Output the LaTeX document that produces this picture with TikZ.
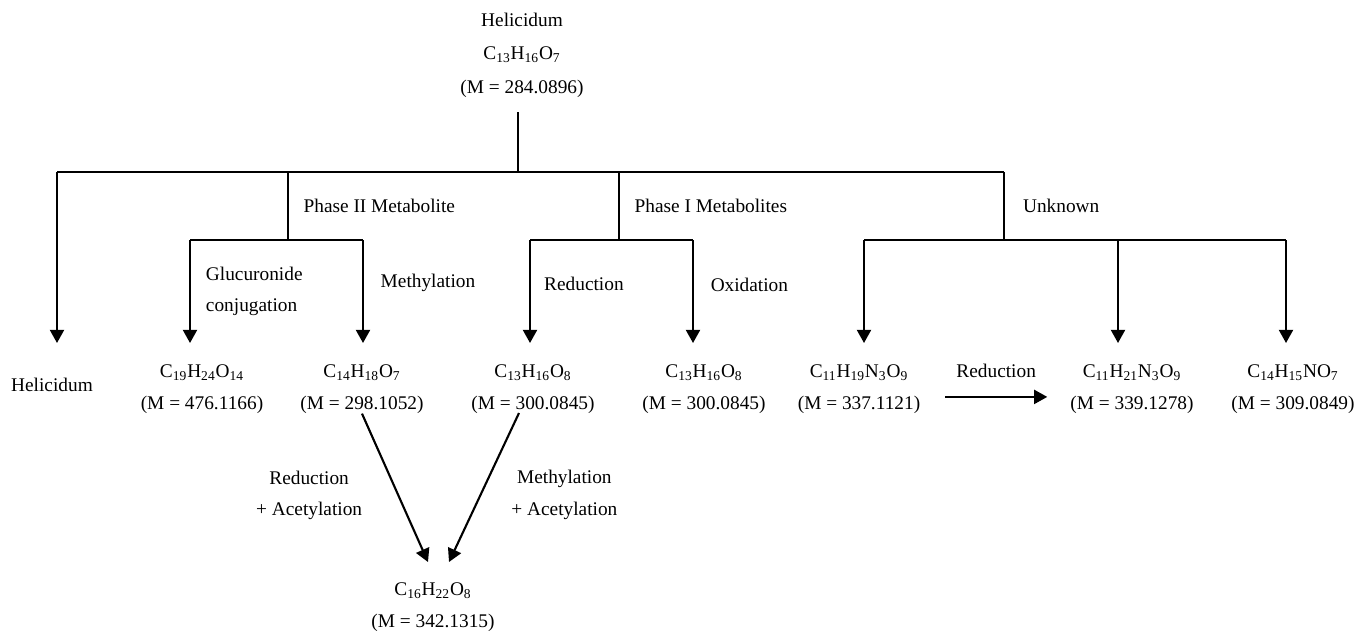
\documentclass[tikz,border=0pt]{standalone}
\usepackage{fontspec}
\setmainfont{Liberation Serif}
\usetikzlibrary{positioning, arrows.meta, calc}
\newcommand{\ix}[1]{\textsubscript{#1}}
\tikzset{
  cmpd/.style={
    align=center,
    inner sep=0pt,
    font=\fontsize{11}{18}\selectfont
  },
  lbl/.style={
    inner sep=0pt,
    font=\fontsize{11}{18}\selectfont
  },
  tree/.style={
    line width=0.75pt
  },
  arr/.style={
    line width=1.2pt,
    -{Triangle[length=7.5pt,width=8pt]}
  }
}

\begin{document}
\begin{tikzpicture}[x=0.02cm, y=-0.02cm]
        \useasboundingbox (0,0) rectangle (1359,630);
        % parent compound
        \node[cmpd, font=\fontsize{11}{19}\selectfont] (root) at (522,55) {Helicidum\\C\ix{13}H\ix{16}O\ix{7}\\(M = 284.0896)};
        \coordinate (stem) at (518,112);
        \coordinate (hub) at (518,172);
        \coordinate (j2) at (288,240);
        \coordinate (j1) at (619,240);
        \coordinate (ju) at (1004,240);
        % arrow tips
        \coordinate (t0) at (57,343);
        \coordinate (t1) at (190,343);
        \coordinate (t2) at (363,343);
        \coordinate (t3) at (530,343);
        \coordinate (t4) at (693,343);
        \coordinate (t5) at (864,343);
        \coordinate (t6) at (1118,343);
        \coordinate (t7) at (1286,343);

        % products
        \node[cmpd] (h0) at (52,385) {Helicidum};
        \node[cmpd] (c1) at (202,389) {C\ix{19}H\ix{24}O\ix{14}\\(M = 476.1166)};
        \node[cmpd] (c2) at (362,389) {C\ix{14}H\ix{18}O\ix{7}\\(M = 298.1052)};
        \node[cmpd] (c3) at (533,389) {C\ix{13}H\ix{16}O\ix{8}\\(M = 300.0845)};
        \node[cmpd] (c4) at (704,389) {C\ix{13}H\ix{16}O\ix{8}\\(M = 300.0845)};
        \node[cmpd] (c5) at (859,389) {C\ix{11}H\ix{19}N\ix{3}O\ix{9}\\(M = 337.1121)};
        \node[cmpd] (c6) at (1132,389) {C\ix{11}H\ix{21}N\ix{3}O\ix{9}\\(M = 339.1278)};
        \node[cmpd] (c7) at (1293,389) {C\ix{14}H\ix{15}NO\ix{7}\\(M = 309.0849)};
        \node[cmpd] (c9) at (433,607) {C\ix{16}H\ix{22}O\ix{8}\\(M = 342.1315)};
        \coordinate (d1) at (428,562);
        \coordinate (d2) at (449,562);
        \coordinate (s2) at (519,413);

        % main bar
        \draw[tree] (stem) -- (hub);
        \draw[tree] (t0 |- hub) -- (ju |- hub);
        \draw[arr] (t0 |- hub) -- (t0);

        % phase II
        \draw[tree] (j2 |- hub) -- node[lbl, midway, right=8.5pt] {Phase II Metabolite} (j2);
        \draw[tree] (t1 |- j2) -- (t2 |- j2);
        \draw[arr] (t1 |- j2) -- node[lbl, midway, right=8.5pt, align=left] {Glucuronide\\conjugation} (t1);
        \draw[arr] (t2 |- j2) -- node[lbl, pos=0.42, right=9.5pt] {Methylation} (t2);

        % phase I
        \draw[tree] (j1 |- hub) -- node[lbl, midway, right=8.5pt] {Phase I Metabolites} (j1);
        \draw[tree] (t3 |- j1) -- (t4 |- j1);
        \draw[arr] (t3 |- j1) -- node[lbl, pos=0.43, right=7.5pt] {Reduction} (t3);
        \draw[arr] (t4 |- j1) -- node[lbl, pos=0.44, right=9.5pt] {Oxidation} (t4);

        % unknown
        \draw[tree] (ju |- hub) -- node[lbl, midway, right=10.5pt] {Unknown} (ju);
        \draw[tree] (t5 |- ju) -- (t7 |- ju);
        \draw[arr] (t5 |- ju) -- (t5);
        \draw[arr] (t6 |- ju) -- (t6);
        \draw[arr] (t7 |- ju) -- (t7);

        % follow-up reactions
        \draw[arr] ([xshift=14pt,yshift=-4.5pt]c5.east) -- node[lbl, midway, above=10.5pt] {Reduction} ([xshift=-13pt,yshift=-4.5pt]c6.west);
        \draw[arr] (c2.south) -- node[lbl, pos=0.55, left=20pt, align=center] {Reduction\\+ Acetylation} (d1);
        \draw[arr] (s2) -- node[lbl, pos=0.55, right=17pt, align=center] {Methylation\\+ Acetylation} (d2);
      \end{tikzpicture}
\end{document}
